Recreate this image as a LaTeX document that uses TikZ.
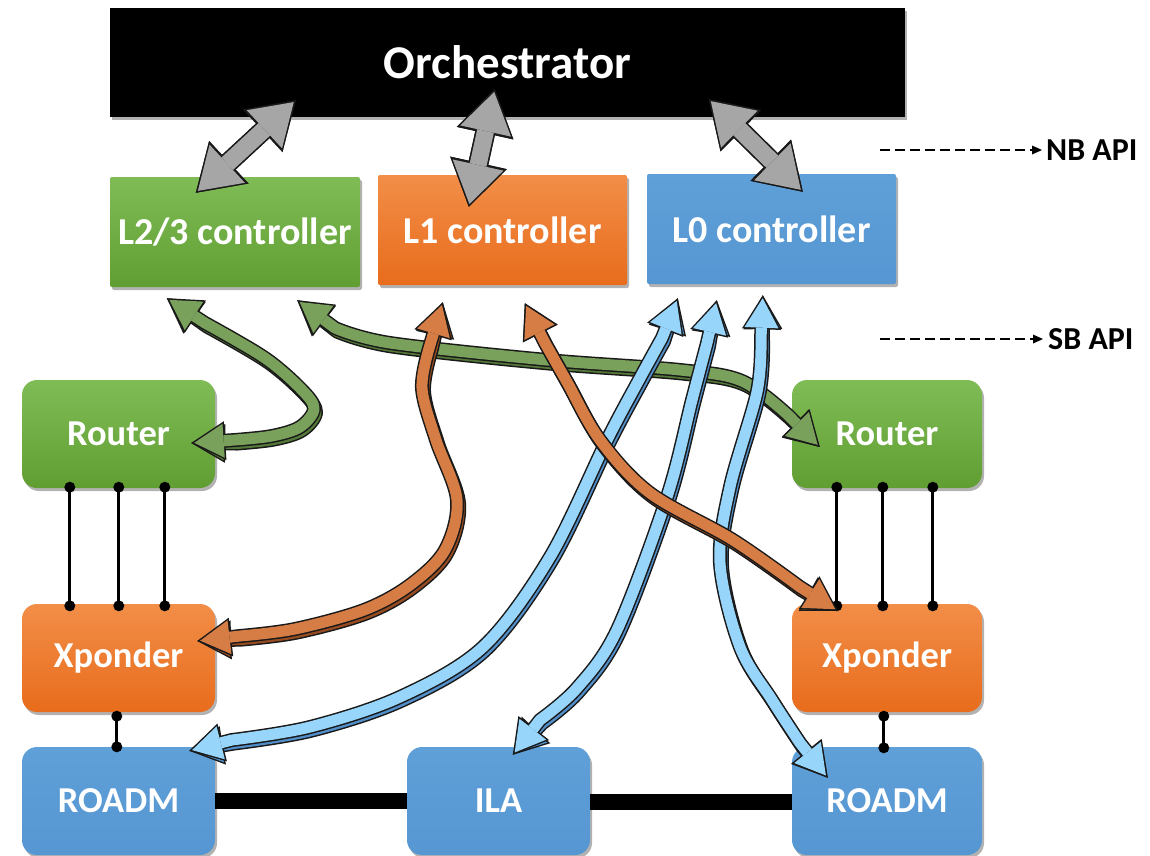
\documentclass[tikz,border=0pt]{standalone}
\usepackage{fontspec}
\setmainfont{Carlito}
\usetikzlibrary{arrows.meta,shadows,calc}

% box colours
\definecolor{grtop}{RGB}{128,188,86}
\definecolor{grbot}{RGB}{96,158,50}
\definecolor{ortop}{RGB}{242,142,72}
\definecolor{orbot}{RGB}{232,108,28}
\definecolor{bltop}{RGB}{96,160,216}
\definecolor{blbot}{RGB}{86,150,210}
% block arrow colours
\definecolor{gface}{RGB}{122,161,92}
\definecolor{gside}{RGB}{84,120,56}
\definecolor{oface}{RGB}{214,125,70}
\definecolor{oside}{RGB}{150,76,32}
\definecolor{bface}{RGB}{152,213,250}
\definecolor{bside}{RGB}{82,142,200}
\definecolor{kface}{RGB}{166,166,166}
\definecolor{kside}{RGB}{92,92,92}
\definecolor{edge}{RGB}{25,25,25}

\tikzset{
  boxshadow/.style={drop shadow={shadow xshift=2pt,shadow yshift=-3pt,opacity=.3,fill=black}},
  ctrlbox/.style={rectangle,rounded corners=2pt,minimum width=249pt,minimum height=110pt,
    text=white,font=\fontsize{38}{44}\selectfont\bfseries,boxshadow},
  devbox/.style={rectangle,rounded corners=15pt,minimum width=193pt,minimum height=108pt,
    text=white,font=\fontsize{36.5}{42}\selectfont\bfseries,boxshadow},
  greenfill/.style={top color=grtop,bottom color=grbot},
  orangefill/.style={top color=ortop,bottom color=orbot},
  bluefill/.style={top color=bltop,bottom color=blbot},
  link/.style={line width=3pt,black},
  trunk/.style={line width=16pt,black},
  apiarrow/.style={line width=2.5pt,dash pattern=on 10pt off 5pt,
    -{Triangle[length=10pt,width=9pt,line width=0pt]}},
  apilabel/.style={anchor=west,inner sep=0pt,font=\fontsize{32}{38}\selectfont\bfseries},
  fa outer/.style={line width=14pt,draw=edge,line join=round,
    {Triangle[length=34pt,width=39pt,line width=0pt]}-{Triangle[length=34pt,width=39pt,line width=0pt]}},
  fa inner/.style={line width=11pt,line join=round,shorten <=3pt,shorten >=3pt,
    {Triangle[length=29.5pt,width=34pt,line width=0pt]}-{Triangle[length=29.5pt,width=34pt,line width=0pt]}},
  ka outer/.style={line width=20pt,draw=edge,
    {Triangle[length=45pt,width=58pt,line width=0pt]}-{Triangle[length=45pt,width=58pt,line width=0pt]}},
  ka inner/.style={line width=17pt,draw=kface,shorten <=2.8pt,shorten >=2.8pt,
    {Triangle[length=40pt,width=52pt,line width=0pt]}-{Triangle[length=40pt,width=52pt,line width=0pt]}},
}

% curved two-headed block arrow with a darker extruded side:
% #1 face, #2 side, #3 first tip, #4 inner course, #5 last tip
\newcommand\flowarrow[5]{%
  \begin{scope}[shift={(2,3.5)}]
    \draw[fa outer] (#3) -- plot[smooth,tension=.55] coordinates {#4} -- (#5);
    \draw[fa inner,draw=#2] (#3) -- plot[smooth,tension=.55] coordinates {#4} -- (#5);
  \end{scope}
  \draw[fa outer] (#3) -- plot[smooth,tension=.55] coordinates {#4} -- (#5);
  \draw[fa inner,draw=#1] (#3) -- plot[smooth,tension=.55] coordinates {#4} -- (#5);
}
% straight grey block arrow between orchestrator and a controller
\newcommand\apiblock[2]{%
  \begin{scope}[shift={(-2.5,4)}]
    \draw[ka outer] (#1) -- (#2);
    \draw[ka inner,draw=kside] (#1) -- (#2);
  \end{scope}
  \draw[ka outer] (#1) -- (#2);
  \draw[ka inner] (#1) -- (#2);
}

\begin{document}
\begin{tikzpicture}[x=1pt,y=-1pt]
\useasboundingbox (0,0) rectangle (1150,855);

% orchestrator and controllers
\node[rectangle,fill=black,minimum width=795pt,minimum height=109pt,boxshadow,
  text=white,font=\fontsize{47}{52}\selectfont\bfseries] (orch) at (507.5,62.5) {Orchestrator};
\node[ctrlbox,greenfill,minimum width=250pt] (L23) at (235,232) {L2/3 controller};
\node[ctrlbox,orangefill] (L1) at (502.5,230) {L1 controller};
\node[ctrlbox,bluefill] (L0) at (771.5,229) {L0 controller};

% network elements
\node[devbox,greenfill] (rtL) at (118.5,434) {Router};
\node[devbox,greenfill,minimum width=190pt] (rtR) at (887,434) {Router};
\node[devbox,orangefill] (xpL) at (118.5,658) {Xponder};
\node[devbox,orangefill,minimum width=190pt] (xpR) at (887,658) {Xponder};
\node[devbox,bluefill] (rdL) at (118.5,801) {ROADM};
\node[devbox,bluefill,minimum width=183pt] (ila) at (498.5,801) {ILA};
\node[devbox,bluefill,minimum width=190pt] (rdR) at (887,801) {ROADM};

% fibre spans
\draw[trunk] (rdL.east |- 0,801) -- (ila.west |- 0,801);
\draw[trunk] (ila.east |- 0,802) -- (rdR.west |- 0,802);

% router to transponder links
\foreach \dx [count=\i] in {48,97,143} {
  \coordinate (la\i) at ($(rtL.south west)+(\dx,-1)$);
  \coordinate (lb\i) at ($(xpL.north west)+(\dx,2)$);
  \draw[link] (la\i) -- (lb\i);
  \fill (la\i) circle (5.5) (lb\i) circle (5.5);
}
\foreach \dx [count=\i] in {45,91,141} {
  \coordinate (ra\i) at ($(rtR.south west)+(\dx,-1)$);
  \coordinate (rb\i) at ($(xpR.north west)+(\dx,2)$);
  \draw[link] (ra\i) -- (rb\i);
  \fill (ra\i) circle (5.5) (rb\i) circle (5.5);
}
% transponder to ROADM links
\coordinate (xl) at ($(xpL.south west)+(95,4)$);
\coordinate (yl) at ($(rdL.north west)+(95,0)$);
\draw[link] (xl) -- (yl); \fill (xl) circle (5.5) (yl) circle (5.5);
\coordinate (xr) at ($(xpR.south west)+(92,4)$);
\coordinate (yr) at ($(rdR.north west)+(92,1)$);
\draw[link] (xr) -- (yr); \fill (xr) circle (5.5) (yr) circle (5.5);

% API legends
\node[apilabel] (nb) at (1046,150) {NB API};
\coordinate (nbs) at (880,150);
\draw[apiarrow] (nbs) -- ($(nb.west)+(-4,0)$);
\node[apilabel] (sb) at (1048,339) {SB API};
\coordinate (sbs) at (880,339);
\draw[apiarrow] (sbs) -- ($(sb.west)+(-5,0)$);

% end points of the southbound arrows
\coordinate (g1a) at ($(L23.south west)+(57,11)$);
\coordinate (g1b) at ($(rtL.east)+(-24,9)$);
\coordinate (g2a) at ($(L23.south east)+(-63,13)$);
\coordinate (g2b) at ($(rtR.west)+(28,13)$);
\coordinate (o1a) at ($(L1.south west)+(65,17)$);
\coordinate (o1b) at ($(xpL.east)+(-18,-17)$);
\coordinate (o2a) at ($(L1.south west)+(147,18)$);
\coordinate (o2b) at ($(xpR.north west)+(46,7)$);
\coordinate (b1a) at ($(L0.south west)+(31,14)$);
\coordinate (b1b) at ($(rdL.north east)+(-26,4)$);
\coordinate (b2a) at ($(L0.south west)+(70,16)$);
\coordinate (b2b) at ($(ila.north west)+(106,8)$);
\coordinate (b3a) at ($(L0.south west)+(116,11)$);
\coordinate (b3b) at ($(rdR.north west)+(36,31)$);

% L2/3 control
\flowarrow{gface}{gside}{g1a}{(205,323) (265,358) (302,390) (314,409) (300,427) (272,436) (235,440)}{g1b}
\flowarrow{gface}{gside}{g2a}{(335,328) (390,343) (547,360) (680,370) (742,381) (788,415)}{g2b}
% L0 control
\flowarrow{bface}{bside}{b1a}{(662,338) (640,378) (607,440) (550,557) (483,647) (400,697) (310,727) (232,740)}{b1b}
\flowarrow{bface}{bside}{b2a}{(707,343) (692,400) (667,497) (617,630) (577,688) (540,720)}{b2b}
\flowarrow{bface}{bside}{b3a}{(761,340) (757,392) (730,487) (720,563) (740,647) (772,700) (800,743)}{b3b}
% L1 control
\flowarrow{oface}{oside}{o1a}{(430,345) (422,388) (436,440) (457,500) (445,550) (410,585) (364,610) (295,629) (240,636)}{o1b}
\flowarrow{oface}{oside}{o2a}{(545,343) (567,382) (600,440) (650,493) (733,540) (800,587)}{o2b}

% northbound interfaces
\coordinate (n1a) at ($(orch.south west)+(186,-17)$);
\coordinate (n1b) at ($(L23.north west)+(86,16)$);
\coordinate (n2a) at ($(orch.south west)+(385,-28)$);
\coordinate (n2b) at ($(L1.north west)+(91,32)$);
\coordinate (n3a) at ($(orch.south west)+(599,-18)$);
\coordinate (n3b) at ($(L0.north west)+(156,18)$);
\apiblock{n1a}{n1b}
\apiblock{n2a}{n2b}
\apiblock{n3a}{n3b}
\end{tikzpicture}
\end{document}
